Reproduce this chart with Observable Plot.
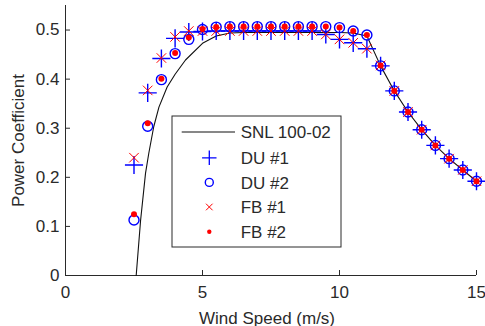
<!DOCTYPE html>
<html><head><meta charset="utf-8">
<script src="https://cdn.jsdelivr.net/npm/d3@7"></script>
<script src="https://cdn.jsdelivr.net/npm/@observablehq/plot@0.6"></script>
<style>
html,body{margin:0;padding:0;background:#fff;}
#chart{position:relative;width:485px;height:326px;}
</style></head><body><div id="chart"></div>
<script>
// ---- data ----
const windSpeed = [2.5,3,3.5,4,4.5,5,5.5,6,6.5,7,7.5,8,8.5,9,9.5,10,10.5,11,11.5,12,12.5,13,13.5,14,14.5,15];
const du1 = [0.225,0.372,0.442,0.483,0.496,0.497,0.498,0.498,0.498,0.498,0.498,0.498,0.498,0.498,0.491,0.481,0.474,0.462,0.427,0.376,0.333,0.297,0.265,0.238,0.215,0.192];
const du2 = [0.113,0.304,0.399,0.452,0.481,0.501,0.506,0.507,0.507,0.507,0.507,0.507,0.507,0.507,0.507,0.505,0.498,0.490,0.427,0.376,0.333,0.297,0.265,0.238,0.215,0.192];
const fb1 = [0.240,0.377,0.443,0.486,0.498,0.498,0.498,0.498,0.498,0.498,0.498,0.498,0.498,0.498,0.491,0.481,0.474,0.462,0.428,0.376,0.333,0.297,0.265,0.238,0.215,0.192];
const fb2 = [0.125,0.310,0.401,0.453,0.485,0.502,0.506,0.507,0.507,0.507,0.507,0.507,0.507,0.507,0.507,0.505,0.498,0.490,0.428,0.376,0.333,0.297,0.265,0.238,0.215,0.192];
const snlSpeed = [2.58,2.74,2.92,3.04,3.22,3.41,3.71,4.0,4.38,5.0,5.5,6.0,6.5,7,7.5,8,8.5,9,9.5,10,10.5,11.0,11.5,12,12.5,13,13.5,14,14.5,15];
const snlCp    = [0,0.112,0.208,0.249,0.303,0.343,0.384,0.410,0.439,0.473,0.488,0.494,0.495,0.495,0.495,0.495,0.495,0.495,0.495,0.495,0.494,0.488,0.427,0.376,0.333,0.297,0.265,0.238,0.215,0.192];
const xTicks = [0,5,10,15];
const yTicks = [0,0.1,0.2,0.3,0.4,0.5];
const seriesNames = ["SNL 100-02","DU #1","DU #2","FB #1","FB #2"];
const xLabel = "Wind Speed (m/s)";
const yLabel = "Power Coefficient";

const pts = windSpeed.map((s,i)=>({s, du1:du1[i], du2:du2[i], fb1:fb1[i], fb2:fb2[i]}));
const snl = snlSpeed.map((s,i)=>({s, cp:snlCp[i]}));

const FONT = "'Liberation Sans', Arial, Helvetica, sans-serif";
const AX = "#2a2a2a";
const FS = 17;

const svg = Plot.plot({
  width:485, height:326,
  marginLeft:65, marginRight:9, marginTop:5, marginBottom:51,
  style:{fontFamily:FONT, fontSize:FS+"px", color:AX, background:"#fff", overflow:"visible"},
  x:{domain:[0,15]},
  y:{domain:[0,0.55]},
  marks:[
    Plot.ruleY([0], {stroke:AX}),
    Plot.ruleX([0], {stroke:AX}),
    Plot.axisX(xTicks, {tickSize:-5, tickPadding:15, label:null, stroke:AX, fill:AX, fontSize:FS}),
    Plot.axisY(yTicks, {tickSize:-5, tickPadding:11, label:null, stroke:AX, fill:AX, fontSize:FS, tickFormat:d=>d===0?"0":d.toFixed(1)}),
    Plot.text([xLabel], {frameAnchor:"bottom", dy:48, dx:-4, lineAnchor:"bottom", textAnchor:"middle", text:d=>d, fill:AX, fontSize:FS}),
    Plot.text([yLabel], {frameAnchor:"left", dx:-42, rotate:-90, lineAnchor:"bottom", textAnchor:"middle", text:d=>d, fill:AX, fontSize:FS}),
    Plot.line(snl, {x:"s", y:"cp", stroke:"#111", strokeWidth:1.1}),
    Plot.dot(pts, {x:"s", y:"du1", symbol:"plus", r:5.9, stroke:"#0000ff", strokeWidth:1.4}),
    Plot.dot(pts, {x:"s", y:"du2", symbol:"circle", r:5, stroke:"#0000ff", strokeWidth:1.4, fill:"none"}),
    Plot.dot(pts, {x:"s", y:"fb1", symbol:"times", r:4.4, stroke:"#ff0000", strokeWidth:1}),
    Plot.dot(pts, {x:"s", y:"fb2", symbol:"circle", r:3, fill:"#ff0000", stroke:"none"})
  ]
});
document.getElementById("chart").appendChild(svg);

// ---- legend box inside the axes ----
const lg = d3.select(svg).append("g").attr("font-family", FONT).attr("font-size", FS).attr("text-anchor","start");
lg.append("rect").attr("x",172).attr("y",116).attr("width",169).attr("height",131)
  .attr("fill","#fff").attr("stroke",AX).attr("stroke-width",1);
const rowY = [132, 157.8, 182.4, 207, 231.8];
const mx = 209.3;
lg.append("line").attr("x1",181.7).attr("x2",235).attr("y1",rowY[0]).attr("y2",rowY[0]).attr("stroke","#111").attr("stroke-width",1.1);
const sym = (type, size) => d3.symbol(type, size)();
lg.append("path").attr("d", sym(d3.symbolPlus, 70)).attr("transform",`translate(${mx},${rowY[1]})`).attr("fill","none").attr("stroke","#0000ff").attr("stroke-width",1.3);
lg.append("path").attr("d", sym(d3.symbolCircle, Math.PI*16)).attr("transform",`translate(${mx},${rowY[2]})`).attr("fill","none").attr("stroke","#0000ff").attr("stroke-width",1.4);
lg.append("path").attr("d", sym(d3.symbolTimes, 30)).attr("transform",`translate(${mx},${rowY[3]})`).attr("fill","none").attr("stroke","#ff0000").attr("stroke-width",1);
lg.append("path").attr("d", sym(d3.symbolCircle, Math.PI*4.8)).attr("transform",`translate(${mx},${rowY[4]})`).attr("fill","#ff0000");
seriesNames.forEach((n,i)=>{
  lg.append("text").attr("x",240.7).attr("y",rowY[i]).attr("dy","0.36em").attr("fill",AX).text(n);
});
</script></body></html>
